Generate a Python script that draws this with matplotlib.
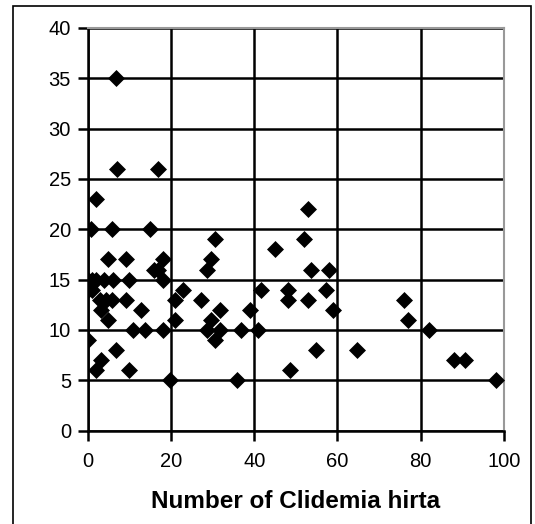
import matplotlib
matplotlib.use("Agg")
import matplotlib.pyplot as plt
from matplotlib.patches import Rectangle

clidemia = [6.9, 7, 17, 2, 0.7, 5.8, 15, 4.9, 9.2, 18, 16, 17,
            0, 1, 2, 4, 6, 10, 18, 0, 1, 3, 4.5, 5.8, 9.2, 3.1, 12.8, 4.9,
            10.9, 13.8, 18, 0, 6.9, 3.3, 1.9, 9.9, 19.7,
            30.5, 29.7, 28.7, 22.8, 21, 27.1, 31.8, 39, 21, 29.7, 28.7, 31.8,
            36.8, 41, 30.5, 35.8, 41.7, 45, 52, 53, 53.7, 58, 48, 48, 53,
            57.2, 59, 54.9, 48.7, 64.8, 76, 76.9, 82, 87.9, 90.6, 98.2]
counts = [35, 26, 26, 23, 20, 20, 20, 17, 17, 17, 16, 16,
          15, 15, 15, 15, 15, 15, 15, 14, 14, 13, 13, 13, 13, 12, 12, 11,
          10, 10, 10, 9, 8, 7, 6, 6, 5,
          19, 17, 16, 14, 13, 13, 12, 12, 11, 11, 10, 10,
          10, 10, 9, 5, 14, 18, 19, 22, 16, 16, 14, 13, 13,
          14, 12, 8, 6, 8, 13, 11, 10, 7, 7, 5]
x_ticks = [0, 20, 40, 60, 80, 100]
y_ticks = [0, 5, 10, 15, 20, 25, 30, 35, 40]
x_label = "Number of Clidemia hirta"

plt.rcParams['font.family'] = ['Liberation Sans', 'DejaVu Sans']

fig = plt.figure(figsize=(5.35, 5.24), dpi=100)
ax = fig.add_axes([0.164, 0.178, 0.778, 0.769])

ax.scatter(clidemia, counts, marker='D', s=75, color='black', zorder=3,
           linewidths=0)

ax.set_xlim(0, 100)
ax.set_ylim(0, 40)
ax.set_xticks(x_ticks)
ax.set_yticks(y_ticks)
ax.grid(True, color='black', linewidth=1.8)
ax.set_axisbelow(True)

for side in ['left', 'bottom']:
    ax.spines[side].set_color('black')
    ax.spines[side].set_linewidth(1.8)
for side in ['top', 'right']:
    ax.spines[side].set_color('#999999')
    ax.spines[side].set_linewidth(1.5)

ax.tick_params(axis='both', direction='out', length=7, width=1.8,
               labelsize=14.5, colors='black')
ax.tick_params(axis='y', pad=5)
ax.tick_params(axis='x', pad=8)
ax.set_xlabel(x_label, fontsize=17.5, fontweight='bold', labelpad=14)

fig.patches.append(Rectangle((0.024, -0.02), 0.968, 1.0085, transform=fig.transFigure,
                             fill=False, edgecolor='black', linewidth=1.2))

fig.savefig("out.png", dpi=100)
